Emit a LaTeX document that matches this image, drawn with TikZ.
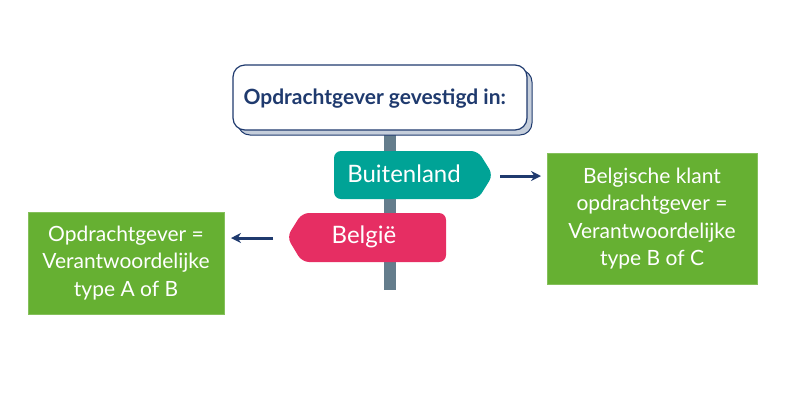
\documentclass[tikz,border=0pt]{standalone}
\usepackage{fontspec}
\setmainfont{Lato}
\usetikzlibrary{arrows.meta}
\definecolor{navy}{HTML}{1F3A6E}
\definecolor{shadowc}{HTML}{C5CEDB}
\definecolor{polec}{HTML}{647D8C}
\definecolor{tealc}{HTML}{00A396}
\definecolor{pinkc}{HTML}{E62E63}
\definecolor{greenc}{HTML}{66B032}
\tikzset{
  greenbox/.style={fill=greenc, draw=greenc!80!white, text=white, align=center, inner sep=0pt, font=\fontsize{21}{27.5}\selectfont},
  signtext/.style={text=white, font=\fontsize{24}{27}\selectfont},
  arr/.style={-{Stealth[length=10pt,width=10pt]}, draw=navy, line width=3pt}
}
\begin{document}
\begin{tikzpicture}[x=1pt,y=-1pt]
\useasboundingbox (0,0) rectangle (800,400);
% pole
\fill[polec] (384,130) rectangle (396,290);
% header with shadow
\draw[navy, fill=shadowc, line width=1pt, rounded corners=12pt] (238,70) rectangle (532,135);
\draw[navy, fill=white, line width=1.2pt, rounded corners=12pt] (233,65) rectangle (527,130);
\node[text=navy, font=\fontsize{21}{24}\selectfont\bfseries, anchor=west] (head) at (240,99) {Opdrachtgever gevestigd in:};
% Buitenland sign
\fill[tealc, rounded corners=7pt] (334,175) -- (334,151) -- (478,151) -- (493,175) -- (478,199) -- (334,199) -- cycle;
\node[signtext] (buit) at (404,174) {Buitenland};
% Belgie sign
\fill[pinkc, rounded corners=7pt] (446,237) -- (446,213) -- (302,213) -- (287,237) -- (302,262) -- (446,262) -- cycle;
\node[signtext] (belg) at (364,237) {België};
% green boxes
\node[greenbox, minimum width=210pt, minimum height=131pt] (rbox) at (652,218.5) {Belgische klant\\opdrachtgever =\\Verantwoordelijke\\type B of C};
\node[greenbox, minimum width=196pt, minimum height=102pt] (lbox) at (126,263) {Opdrachtgever =\\Verantwoordelijke\\type A of B};
% arrows
\coordinate (rs) at (500,176);
\coordinate (re) at (541,176);
\coordinate (ls) at (273,238);
\coordinate (le) at (231,238);
\draw[arr] (rs) -- (re);
\draw[arr] (ls) -- (le);
\end{tikzpicture}
\end{document}
